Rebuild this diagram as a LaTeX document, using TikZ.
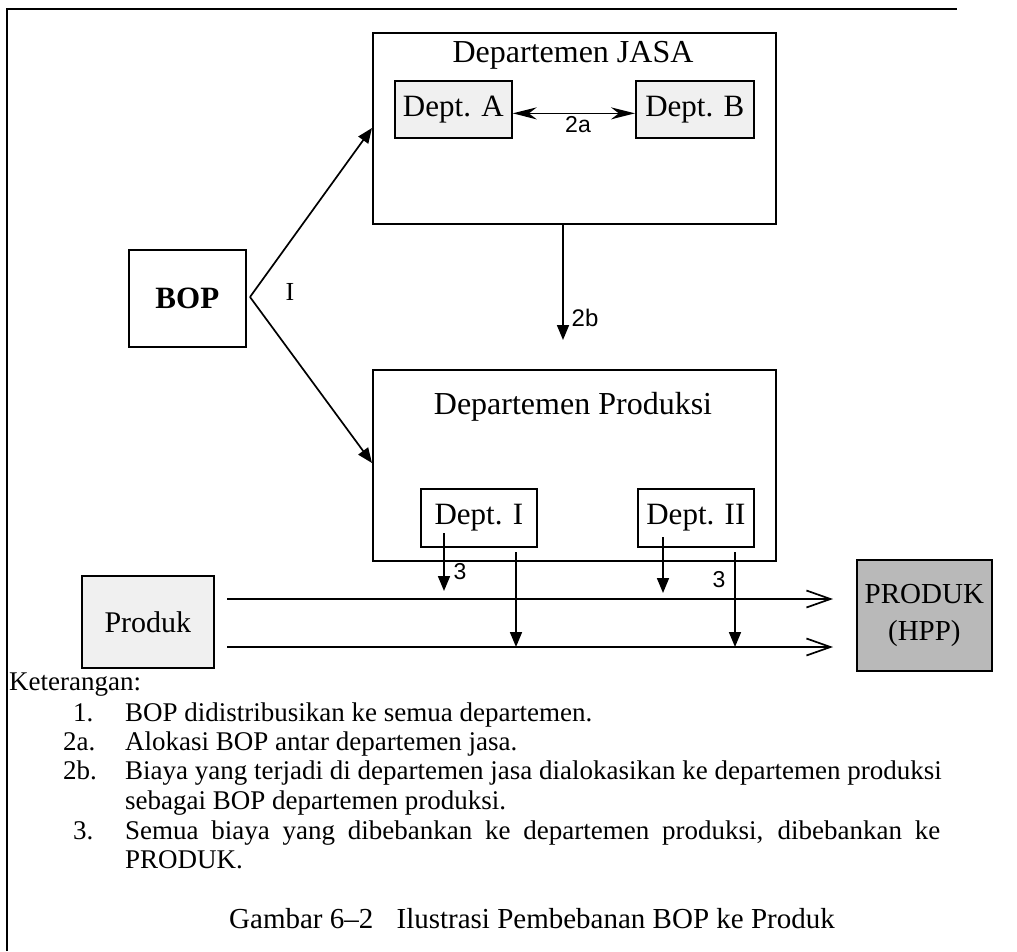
\documentclass[tikz,border=0pt]{standalone}
\usepackage{fontspec}
\setmainfont{Liberation Serif}
\newfontfamily\labfont{Liberation Sans}
\usetikzlibrary{arrows.meta}
\newcommand\fbig{\fontsize{31}{36}\selectfont}
\newcommand\ftitle{\fontsize{32}{37}\selectfont}
\newcommand\ftxt{\fontsize{27}{30}\selectfont}
\newcommand\flab{\labfont\fontsize{23}{27}\selectfont}
\begin{document}
\begin{tikzpicture}[x=1pt,y=-1pt,
  frame/.style={line width=2pt},
  box/.style={draw, line width=1.7pt, inner sep=0pt, anchor=north west},
  subbox/.style={box, fill=gray!12},
  darkbox/.style={box, fill=gray!55},
  conn/.style={line width=1.7pt},
  tri/.style={conn, -{Triangle[length=15pt,width=12pt]}},
  twoway/.style={conn, {Stealth[length=24pt,width=12pt]}-{Stealth[length=24pt,width=12pt]}},
  barb/.style={conn, -{Straight Barb[length=24pt,width=17pt,line width=1.7pt]}},
  lbl/.style={font=\flab, inner sep=0pt},
  txt/.style={font=\ftxt, anchor=base west, inner sep=0pt}]
\useasboundingbox (0,0) rectangle (1017,951);

% outer frame (open on the right and bottom)
\draw[frame] (7,951) -- (7,9) -- (957,9);

% service departments
\node[box, minimum width=403pt, minimum height=191pt] (jasa) at (372,32) {};
\node[font=\ftitle, inner sep=0pt] (jasaT) at (573,55) {Departemen JASA};
\node[subbox, minimum width=117pt, minimum height=57pt] (deptA) at (394,80) {};
\node[font=\fbig, inner sep=0pt] at (deptA) {Dept. A};
\node[subbox, minimum width=118pt, minimum height=57pt] (deptB) at (635,80) {};
\node[font=\fbig, inner sep=0pt] at (deptB) {Dept. B};
\draw[twoway] ([yshift=-4pt]deptA.east) -- ([yshift=-4pt]deptB.west);
\node[lbl] (l2a) at (578,125) {2a};

% overhead pool
\node[box, minimum width=117pt, minimum height=97pt] (bop) at (128,249) {};
\node[font=\fbig\bfseries, inner sep=0pt] at (bop) {BOP};
\coordinate (apex) at (250,297);
\coordinate (toJasa) at (372,128);
\coordinate (toProd) at (372,463);
\draw[tri] (apex) -- (toJasa);
\draw[tri] (apex) -- (toProd);
\node[font=\fontsize{26}{30}\selectfont, inner sep=0pt] (l1) at (290,292) {I};

% production departments
\node[box, minimum width=403pt, minimum height=191pt] (prod) at (372,369) {};
\node[font=\ftitle, inner sep=0pt] (prodT) at (573,407) {Departemen Produksi};
\node[box, fill=white, minimum width=116pt, minimum height=58pt] (dept1) at (420,488) {};
\node[font=\fbig, inner sep=0pt] at (dept1) {Dept. I};
\node[box, fill=white, minimum width=116pt, minimum height=58pt] (dept2) at (637,488) {};
\node[font=\fbig, inner sep=0pt] at (dept2) {Dept. II};

\coordinate (jasaOut) at (563,223);
\coordinate (prodIn) at (563,340);
\draw[tri] (jasaOut) -- (prodIn);
\node[lbl, font=\labfont\fontsize{24}{28}\selectfont] (l2b) at (585,318) {2b};

% product flow
\node[subbox, minimum width=132pt, minimum height=92pt] (produk) at (81,575) {};
\node[font=\fontsize{30}{34}\selectfont, inner sep=0pt] at (produk) {Produk};
\node[darkbox, minimum width=135pt, minimum height=111pt] (hpp) at (856,559) {};
\node[font=\fontsize{29}{37}\selectfont, align=center, inner sep=0pt] at (hpp) {PRODUK\\(HPP)};

\coordinate (up1) at (227,599);
\coordinate (up2) at (833,599);
\coordinate (lo1) at (227,647);
\coordinate (lo2) at (833,647);
\draw[barb] (up1) -- (up2);
\draw[barb] (lo1) -- (lo2);

\coordinate (d1s) at (444,533);  \coordinate (d1e) at (444,591);
\coordinate (d2s) at (663,537);  \coordinate (d2e) at (663,593);
\coordinate (d3s) at (516,552);  \coordinate (d3e) at (516,647);
\coordinate (d4s) at (735,552);  \coordinate (d4e) at (735,647);
\draw[tri] (d1s) -- (d1e);
\draw[tri] (d2s) -- (d2e);
\draw[tri] (d3s) -- (d3e);
\draw[tri] (d4s) -- (d4e);
\node[lbl] (l3a) at (460,572) {3};
\node[lbl] (l3b) at (719,580) {3};

% legend
\node[txt] at (9,690) {Keterangan:};
\node[txt] at (73,721) {1.};
\node[txt] at (125,721) {BOP didistribusikan ke semua departemen.};
\node[txt] at (63,750) {2a.};
\node[txt] at (125,750) {Alokasi BOP antar departemen jasa.};
\node[txt] at (63,779) {2b.};
\node[txt] at (125,779) {Biaya yang terjadi di departemen jasa dialokasikan ke departemen produksi};
\node[txt] at (125,809) {sebagai BOP departemen produksi.};
\node[txt] at (73,839) {3.};
\node[txt] at (125,839) {\makebox[815pt][s]{Semua biaya yang dibebankan ke departemen produksi, dibebankan ke}};
\node[txt] at (125,868) {PRODUK.};
\node[font=\fontsize{29}{34}\selectfont, inner sep=0pt, anchor=base] (cap) at (532,928) {Gambar 6--2\hspace{0.8em}Ilustrasi Pembebanan BOP ke Produk};
\end{tikzpicture}
\end{document}
